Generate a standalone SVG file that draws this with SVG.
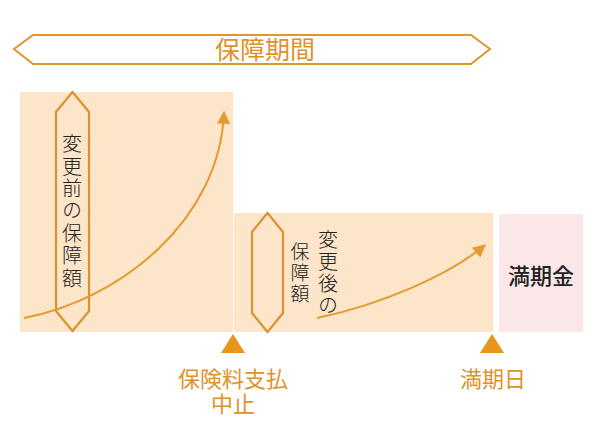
<svg xmlns="http://www.w3.org/2000/svg" width="600" height="440" viewBox="0 0 600 440">
<defs>
<style>
.hex{fill:none;stroke:#d9932f;stroke-width:2.2}
.curve{fill:none;stroke:#e39a2e;stroke-width:2}
.lbl{font-family:"Liberation Sans","Noto Sans CJK JP",sans-serif;fill:#e0922a;font-size:22px;text-anchor:middle}
.vt{font-family:"Noto Sans CJK JP",sans-serif;fill:#222;font-weight:300;text-anchor:middle;font-size:20px;writing-mode:vertical-rl}
</style>
<marker id="ah" viewBox="0 0 10 10" refX="9" refY="5" markerWidth="14" markerHeight="13" orient="auto-start-reverse" markerUnits="userSpaceOnUse">
<path d="M0,0 L10,5 L0,10 Z" fill="#e39a2e"/>
</marker>
</defs>
<rect width="600" height="440" fill="#fff"/>
<g id="period">
<polygon points="14,49 33,35 471,35 490,49 471,64 33,64" fill="#fff" stroke="#e0962d" stroke-width="2"/>
<text x="265" y="59" class="lbl" style="font-size:25px">保障期間</text>
</g>
<g id="before">
<rect x="20" y="92" width="213" height="240" fill="#fce5c9"/>
<polygon class="hex" points="72.5,92 89,112 89,311 72.5,331 56,311 56,112"/>
<text class="vt" x="72" y="212" style="letter-spacing:2.4px">変更前の保障額</text>
</g>
<g id="after">
<rect x="234" y="213" width="259" height="119" fill="#fce5c9"/>
<polygon class="hex" points="267.5,213 283,232 283,313 267.5,332 252,313 252,232"/>
<text class="vt" x="328" y="273" style="letter-spacing:2px">変更後の</text>
<text class="vt" x="300" y="274" style="font-size:19px;letter-spacing:2px">保障額</text>
</g>
<g id="maturity">
<rect x="499" y="214" width="84" height="118" fill="#fbe7e8"/>
<text x="541" y="284" style="font-family:'Noto Sans CJK JP',sans-serif;font-size:22px;font-weight:500;fill:#222;text-anchor:middle">満期金</text>
</g>
<g id="connectors">
<path class="curve" d="M24,318 C120,300 220,220 224,112" marker-end="url(#ah)"/>
<path class="curve" d="M317,318 C380,305 450,275 485,245" marker-end="url(#ah)"/>
</g>
<g id="stop">
<polygon points="233,334 245,353 221,353" fill="#e8951c"/>
<text class="lbl"><tspan x="233" y="387">保険料支払</tspan><tspan x="233" y="412">中止</tspan></text>
</g>
<g id="end">
<polygon points="492,334 504,353 480,353" fill="#e8951c"/>
<text class="lbl" x="493" y="387">満期日</text>
</g>
</svg>
